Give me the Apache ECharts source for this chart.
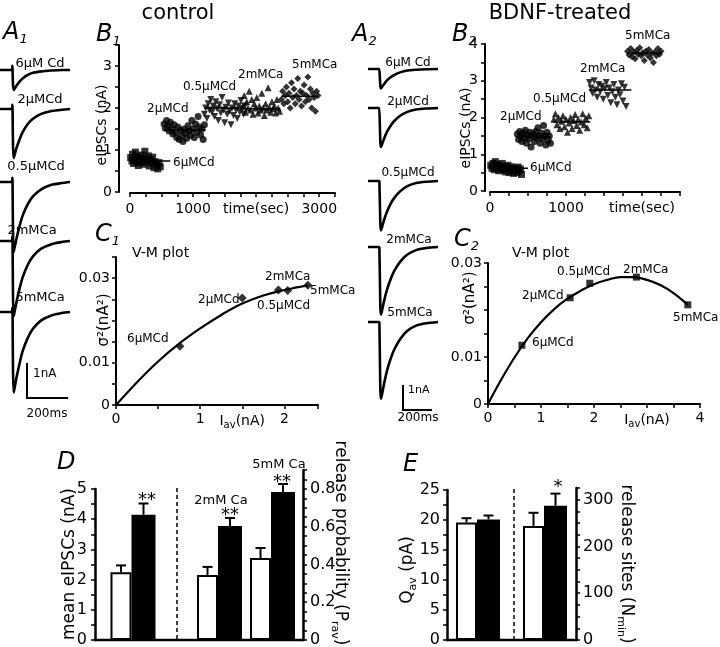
<!DOCTYPE html>
<html>
<head>
<meta charset="utf-8">
<script src="https://cdn.jsdelivr.net/npm/echarts@6/dist/echarts.min.js"></script>
<style>
  html, body { margin: 0; padding: 0; background: #fff; }
  #chart { width: 720px; height: 647px; }
</style>
</head>
<body>
<div id="chart"></div>
<script>
const FONT = 'DejaVu Sans';

// ---- condition names ----
const condLabels = ['6µMCd', '2µMCd', '0.5µMCd', '2mMCa', '5mMCa'];
const traceLabels = ['6µM Cd', '2µMCd', '0.5µMCd', '2mMCa', '5mMCa'];

// ---- A1: example eIPSC traces, control (ms, nA) ----
const a1Time = [-60, -2, 0, 1, 3, 6, 10, 20, 35, 50, 75, 100, 140, 190, 240, 280];
const a1Cd6  = [0, 0, 0.12, 0, -0.4, -0.57, -0.54, -0.45, -0.33, -0.24, -0.14, -0.08, -0.04, -0.015, 0, 0];
const a1Cd2  = [0, 0, 0.12, 0, -1.0, -1.4, -1.33, -1.12, -0.87, -0.66, -0.43, -0.28, -0.14, -0.06, -0.02, 0];
const a1Cd05 = [0, 0, 0.12, 0, -1.4, -2.0, -1.9, -1.62, -1.26, -0.96, -0.63, -0.41, -0.21, -0.08, -0.03, 0];
const a1Ca2  = [0, 0, 0.12, 0, -1.5, -2.15, -2.05, -1.75, -1.36, -1.04, -0.68, -0.44, -0.22, -0.09, -0.03, 0];
const a1Ca5  = [0, 0, 0.12, 0, -1.6, -2.3, -2.2, -1.88, -1.47, -1.12, -0.74, -0.48, -0.24, -0.1, -0.03, 0];

// ---- A2: example eIPSC traces, BDNF-treated (ms, nA) ----
const a2Time = [-80, -2, 0, 2, 5, 9, 15, 30, 50, 75, 100, 140, 190, 250, 320, 400];
const a2Cd6  = [0, 0, 0, -0.4, -0.68, -0.75, -0.7, -0.58, -0.44, -0.32, -0.23, -0.13, -0.06, -0.03, -0.01, 0];
const a2Cd2  = [0, 0, 0, -0.8, -1.35, -1.5, -1.42, -1.18, -0.92, -0.68, -0.5, -0.3, -0.15, -0.06, -0.02, 0];
const a2Cd05 = [0, 0, 0, -1.0, -1.7, -1.9, -1.8, -1.5, -1.18, -0.88, -0.65, -0.4, -0.2, -0.08, -0.03, 0];
const a2Ca2  = [0, 0, 0, -1.4, -2.35, -2.6, -2.48, -2.08, -1.65, -1.24, -0.92, -0.57, -0.29, -0.12, -0.04, 0];
const a2Ca5  = [0, 0, 0, -1.6, -2.65, -2.95, -2.82, -2.38, -1.88, -1.42, -1.06, -0.66, -0.34, -0.14, -0.05, 0];

// ---- B1: eIPSC amplitude vs time, control [sec, nA] ----
const b1Cd6 = [[10,0.82],[30,0.74],[40,0.9],[55,0.68],[70,0.78],[85,0.95],[100,0.72],[115,0.85],[130,0.63],[150,0.8],[165,0.7],[180,0.88],[200,0.76],[215,0.66],[235,0.97],[250,0.8],[270,0.71],[290,0.86],[305,0.62],[325,0.77],[345,0.69],[360,0.83],[380,0.58],[400,0.72],[420,0.65],[440,0.55],[460,0.7],[480,0.6]];
const b1Cd2 = [[540,1.62],[560,1.52],[580,1.7],[600,1.58],[620,1.45],[640,1.66],[660,1.5],[680,1.38],[700,1.6],[720,1.42],[740,1.3],[760,1.55],[780,1.25],[800,1.47],[820,1.35],[840,1.2],[860,1.5],[880,1.4],[900,1.28],[920,1.58],[940,1.45],[960,1.35],[980,1.7],[1000,1.5],[1020,1.3],[1040,1.62],[1060,1.42],[1080,1.8],[1100,1.55],[1120,1.36],[1140,1.5],[1160,1.25],[1180,1.6]];
const b1Cd05 = [[1180,1.85],[1200,2.0],[1220,1.75],[1240,2.1],[1260,1.95],[1280,2.2],[1300,1.9],[1320,2.05],[1340,1.8],[1360,2.15],[1380,1.98],[1400,1.7],[1420,2.08],[1440,1.88],[1460,2.25],[1480,1.95],[1500,1.65],[1520,2.02],[1540,1.85],[1560,2.12],[1580,1.92],[1600,1.6],[1620,2.0],[1640,1.82],[1660,2.1],[1680,1.95],[1700,1.75],[1720,2.05],[1740,1.9],[1760,2.18],[1780,1.98],[1800,1.85],[1820,2.05]];
const b1Ca2 = [[1790,2.05],[1810,2.3],[1830,1.9],[1850,2.15],[1870,2.0],[1890,2.4],[1910,1.95],[1930,2.2],[1950,1.85],[1970,2.1],[1990,2.0],[2010,2.25],[2030,1.88],[2050,2.05],[2070,1.95],[2090,2.35],[2110,2.0],[2130,1.82],[2150,2.1],[2170,1.95],[2190,2.48],[2210,2.02],[2230,1.9],[2250,2.15],[2270,1.98],[2290,2.05],[2310,1.88],[2330,2.2],[2350,2.0],[2370,1.92]];
const b1Ca5 = [[2400,2.2],[2420,2.4],[2440,2.1],[2460,2.3],[2480,2.5],[2500,2.15],[2520,2.35],[2540,2.0],[2560,2.6],[2580,2.25],[2600,2.45],[2620,2.1],[2640,2.3],[2660,2.7],[2680,2.2],[2700,2.4],[2720,2.05],[2740,2.35],[2760,2.55],[2780,2.15],[2800,2.3],[2820,2.74],[2840,2.2],[2860,2.45],[2880,2.0],[2900,2.35],[2920,2.25],[2940,1.92],[2960,2.4],[2980,2.3]];
const b1Mean = [0.74, 1.48, 2.0, 1.98, 2.28];
const b1Span = [[0, 640], [540, 1200], [1180, 1820], [1790, 2380], [2400, 2980]];

// ---- B2: eIPSC amplitude vs time, BDNF-treated [sec, nA] ----
const b2Cd6 = [[10,0.7],[25,0.62],[40,0.75],[55,0.58],[70,0.8],[85,0.65],[100,0.72],[115,0.55],[130,0.68],[145,0.6],[160,0.75],[175,0.57],[190,0.66],[205,0.52],[220,0.62],[235,0.7],[250,0.5],[265,0.6],[280,0.66],[295,0.55],[310,0.48],[325,0.62],[340,0.58],[355,0.5],[370,0.65],[385,0.55],[400,0.6],[415,0.45]];
const b2Cd2 = [[360,1.55],[375,1.4],[390,1.62],[405,1.5],[420,1.35],[435,1.58],[450,1.45],[465,1.65],[480,1.3],[495,1.52],[510,1.42],[525,1.6],[540,1.2],[555,1.48],[570,1.55],[585,1.35],[600,1.62],[615,1.45],[630,1.72],[645,1.5],[660,1.3],[675,1.58],[690,1.42],[705,1.78],[720,1.5],[735,1.25],[750,1.6],[765,1.38],[780,1.5],[795,1.3]];
const b2Cd05 = [[840,1.95],[860,2.1],[880,1.8],[900,2.0],[920,1.7],[940,1.9],[960,2.05],[980,1.75],[1000,1.95],[1020,1.6],[1040,1.85],[1060,2.0],[1080,1.7],[1100,1.92],[1120,2.08],[1140,1.78],[1160,1.95],[1180,1.65],[1200,1.88],[1220,2.1],[1240,1.8],[1260,1.98],[1280,1.72],[1300,2.05]];
const b2Ca2 = [[1310,2.95],[1330,2.8],[1350,2.65],[1370,3.0],[1390,2.75],[1410,2.55],[1430,2.9],[1450,2.7],[1470,2.85],[1490,2.5],[1510,2.78],[1530,2.95],[1550,2.6],[1570,2.8],[1590,2.4],[1610,2.7],[1630,2.9],[1650,2.55],[1670,2.35],[1690,2.75],[1710,2.62],[1730,2.92],[1750,2.45],[1770,2.82],[1790,2.3]];
const b2Ca5 = [[1810,3.8],[1830,3.7],[1850,3.88],[1870,3.65],[1890,3.78],[1910,3.6],[1930,3.82],[1950,3.72],[1970,3.9],[1990,3.68],[2010,3.76],[2030,3.55],[2050,3.8],[2070,3.7],[2090,3.85],[2110,3.62],[2130,3.75],[2150,3.5],[2170,3.78],[2190,3.68],[2210,3.88],[2230,3.72],[2250,3.8]];
const b2Mean = [0.62, 1.48, 1.88, 2.75, 3.75];
const b2Span = [[0, 500], [340, 800], [830, 1320], [1300, 1860], [1800, 2260]];

// ---- C: variance-mean plots [Iav nA, variance nA^2] ----
const c1Curve = [[0,0],[0.25,0.0054],[0.5,0.0103],[0.75,0.0145],[1.0,0.0181],[1.25,0.0213],[1.5,0.024],[1.75,0.0259],[2.0,0.0272],[2.15,0.0278],[2.28,0.0283]];
const c1Points = [[0.76,0.0139],[1.5,0.0253],[2.04,0.0271],[1.93,0.0272],[2.28,0.0283]];
const c2Curve = [[0,0],[0.25,0.0052],[0.5,0.0099],[0.75,0.014],[1,0.0174],[1.25,0.0202],[1.5,0.0224],[1.75,0.0241],[2,0.0255],[2.25,0.0264],[2.5,0.027],[2.75,0.027],[3,0.0264],[3.25,0.0253],[3.5,0.0236],[3.77,0.0211]];
const c2Points = [[0.64,0.0125],[1.55,0.0226],[1.92,0.0257],[2.8,0.027],[3.77,0.0211]];

// ---- D: mean eIPSCs and release probability (control / BDNF) ----
const dMeanCat = ['0.5µM Cd'];
const dMeanCtl = [2.24], dMeanCtlErr = [0.23];
const dMeanBdnf = [4.15], dMeanBdnfErr = [0.37];
const dProbCat = ['2mM Ca', '5mM Ca'];
const dProbCtl = [0.344, 0.434], dProbCtlErr = [0.043, 0.053];
const dProbBdnf = [0.604, 0.784], dProbBdnfErr = [0.042, 0.042];

// ---- E: quantal size and release sites ----
const eQCtl = [19.6], eQCtlErr = [0.7];
const eQBdnf = [20.1], eQBdnfErr = [0.65];
const eNCtl = [244], eNCtlErr = [28];
const eNBdnf = [287], eNBdnfErr = [26];

const grids = [], xAxes = [], yAxes = [], series = [], graphics = [];

function near(v, t) { return Math.abs(v - t) < 1e-9; }
function pick(pairs) {
  return function (v) {
    for (let i = 0; i < pairs.length; i++) if (near(v, pairs[i][0])) return pairs[i][1];
    return '';
  };
}
const subRich = {
  i: { fontSize: 14, fontFamily: FONT, color: '#000', lineHeight: 18 },
  s: { fontSize: 10, fontFamily: FONT, color: '#000', lineHeight: 10, verticalAlign: 'bottom' }
};
const IAV = '{i|I}{s|av}{i|(nA)}';

function valAxis(o) {
  return {
    type: 'value', min: o.min, max: o.max, interval: o.interval,
    position: o.position, offset: o.offset || 0, show: o.show !== false,
    axisLine: { show: true, onZero: false, lineStyle: { color: '#000', width: o.lw || 2 } },
    axisTick: { show: true, length: 4, lineStyle: { color: '#000', width: 1.5 } },
    axisLabel: { show: !!o.label, formatter: o.label, margin: o.margin || 7, color: '#000',
      fontFamily: FONT, fontSize: o.fs || 14, rich: subRich, hideOverlap: false },
    splitLine: { show: false }
  };
}
function catAxis(data) {
  return { type: 'category', data: data, axisLine: { show: false }, axisTick: { show: false },
    axisLabel: { show: false }, splitLine: { show: false } };
}
function addGrid(g, xa, ya) {
  const i = grids.length;
  grids.push(Object.assign({ containLabel: false, outerBoundsMode: 'none' }, g));
  xa.gridIndex = i; ya.gridIndex = i;
  xAxes.push(xa); yAxes.push(ya);
  return i;
}
function txt(x, y, s, o) {
  o = o || {};
  graphics.push({
    type: 'text', x: x, y: y, rotation: o.rot || 0, z: 100,
    style: {
      text: s, fill: '#000', fontFamily: FONT, fontSize: o.size || 12,
      fontStyle: o.italic ? 'italic' : 'normal', align: o.align || 'left',
      verticalAlign: 'middle', rich: o.rich
    }
  });
}
function seg(x1, y1, x2, y2, w, dash) {
  graphics.push({ type: 'line', z: 100, shape: { x1: x1, y1: y1, x2: x2, y2: y2 },
    style: { stroke: '#000', lineWidth: w || 2, lineDash: dash || null } });
}
function letter(x, y, a, n) {
  txt(x, y, '{a|' + a + '}' + (n ? '{n|' + n + '}' : ''), {
    rich: {
      a: { fontSize: 24, fontStyle: 'italic', fontFamily: FONT, fill: '#000', color: '#000', lineHeight: 26 },
      n: { fontSize: 13, fontStyle: 'italic', fontFamily: FONT, fill: '#000', color: '#000', lineHeight: 12, verticalAlign: 'bottom' }
    }
  });
}

// ---- A traces ----
function addTraces(times, sets, left, width, xr, yr, pxPerNA, baselines) {
  sets.forEach(function (vals, k) {
    const top = baselines[k] - yr[1] * pxPerNA;
    const g = addGrid({ left: left, top: top, width: width, height: (yr[1] - yr[0]) * pxPerNA },
      { type: 'value', min: xr[0], max: xr[1], show: false },
      { type: 'value', min: yr[0], max: yr[1], show: false });
    series.push({ type: 'line', xAxisIndex: g, yAxisIndex: g, showSymbol: false, smooth: 0.25,
      data: times.map(function (t, i) { return [t, vals[i]]; }),
      lineStyle: { color: '#000', width: 2.6 } });
  });
}
addTraces(a1Time, [a1Cd6, a1Cd2, a1Cd05, a1Ca2, a1Ca5], 0, 70, [-60, 280], [-2.5, 0.5], 35, [70, 109, 182, 241, 312]);
addTraces(a2Time, [a2Cd6, a2Cd2, a2Cd05, a2Ca2, a2Ca5], 368, 70, [-80, 400], [-3.5, 0.5], 26, [69, 108, 181, 247, 322]);

[[40, 64], [40, 100], [36, 167], [32, 231], [40, 298]].forEach(function (p, k) { txt(p[0], p[1], traceLabels[k], { size: 13, align: 'center' }); });
[[408, 63], [408, 102], [408, 173], [409, 240], [410, 313]].forEach(function (p, k) { txt(p[0], p[1], traceLabels[k], { size: 12, align: 'center' }); });

// scale bars
seg(27, 363, 27, 399, 2); seg(26, 398, 68, 398, 2);
txt(33, 374, '1nA', { size: 12 }); txt(47, 414, '200ms', { size: 12, align: 'center' });
seg(403, 385, 403, 411, 2); seg(402, 410, 432, 410, 2);
txt(408, 390, '1nA', { size: 11 }); txt(418, 418, '200ms', { size: 12, align: 'center' });

// ---- B scatter plots ----
function addTimePlot(g, sets, symbols, rotates, size, means, spans) {
  sets.forEach(function (d, k) {
    series.push({ type: 'scatter', xAxisIndex: g, yAxisIndex: g, data: d, symbol: symbols[k],
      symbolRotate: rotates[k], symbolSize: size, itemStyle: { color: '#000' } });
    series.push({ type: 'line', xAxisIndex: g, yAxisIndex: g, showSymbol: false, z: 3,
      data: [[spans[k][0], means[k]], [spans[k][1], means[k]]],
      lineStyle: { color: '#000', width: 1.5 } });
  });
}
const intLabel = function (v) { return near(v, Math.round(v)) ? String(Math.round(v)) : ''; };
const gB1 = addGrid({ left: 130, top: 45, width: 205, height: 147 },
  valAxis({ min: 0, max: 3250, interval: 250, offset: 1, margin: 9,
    label: pick([[0, '0'], [1000, '1000'], [2000, 'time(sec)'], [3000, '3000']]) }),
  valAxis({ min: 0, max: 3.5, interval: 0.5, offset: 11, label: intLabel }));
addTimePlot(gB1, [b1Cd6, b1Cd2, b1Cd05, b1Ca2, b1Ca5], ['rect', 'circle', 'triangle', 'triangle', 'diamond'],
  [0, 0, 180, 0, 0], 7, b1Mean, b1Span);

const gB2 = addGrid({ left: 490, top: 44, width: 190, height: 147 },
  valAxis({ min: 0, max: 2500, interval: 250, offset: 1, margin: 9,
    label: pick([[0, '0'], [1000, '1000'], [2000, 'time(sec)']]) }),
  valAxis({ min: 0, max: 4, interval: 0.5, offset: 5, label: intLabel }));
addTimePlot(gB2, [b2Cd6, b2Cd2, b2Cd05, b2Ca2, b2Ca5], ['rect', 'circle', 'triangle', 'triangle', 'diamond'],
  [0, 0, 0, 180, 0], 7, b2Mean, b2Span);

[[147, 109], [183, 87], [238, 75], [292, 65], [173, 163]].forEach(function (p, k) {
  txt(p[0], p[1], condLabels[[1, 2, 3, 4, 0][k]], { size: 12 });
});
[[500, 117], [533, 99], [580, 69], [625, 36], [530, 168]].forEach(function (p, k) {
  txt(p[0], p[1], condLabels[[1, 2, 3, 4, 0][k]], { size: 12 });
});

// ---- C variance-mean plots ----
const varLabel = pick([[0, '0'], [0.01, '0.01'], [0.03, '0.03']]);
const gC1 = addGrid({ left: 116, top: 257, width: 202, height: 148 },
  valAxis({ min: 0, max: 2.4, interval: 0.5, label: pick([[0, '0'], [1, '1'], [1.5, IAV], [2, '2']]) }),
  valAxis({ min: 0, max: 0.035, interval: 0.005, label: varLabel, margin: 6 }));
series.push({ type: 'line', xAxisIndex: gC1, yAxisIndex: gC1, data: c1Curve, smooth: 0.4, showSymbol: false,
  lineStyle: { color: '#000', width: 2.2 } });
series.push({ type: 'scatter', xAxisIndex: gC1, yAxisIndex: gC1, data: c1Points, symbol: 'diamond', symbolSize: 9,
  itemStyle: { color: '#000' } });

const gC2 = addGrid({ left: 488, top: 263, width: 212, height: 141 },
  valAxis({ min: 0, max: 4, interval: 0.5, label: pick([[0, '0'], [1, '1'], [2, '2'], [3, IAV], [4, '4']]) }),
  valAxis({ min: 0, max: 0.03, interval: 0.005, label: varLabel, margin: 6 }));
series.push({ type: 'line', xAxisIndex: gC2, yAxisIndex: gC2, data: c2Curve, smooth: 0.4, showSymbol: false,
  lineStyle: { color: '#000', width: 2.2 } });
series.push({ type: 'scatter', xAxisIndex: gC2, yAxisIndex: gC2, data: c2Points, symbol: 'rect', symbolSize: 7,
  itemStyle: { color: '#000' } });

[[127, 339, 0], [198, 300, 1], [257, 306, 2], [265, 277, 3], [310, 291, 4]].forEach(function (p) {
  txt(p[0], p[1], condLabels[p[2]], { size: 12 });
});
[[532, 343, 0], [522, 296, 1], [557, 272, 2], [623, 270, 3], [673, 318, 4]].forEach(function (p) {
  txt(p[0], p[1], condLabels[p[2]], { size: 12 });
});
txt(132, 253, 'V-M plot', { size: 14 });
txt(512, 253, 'V-M plot', { size: 14 });

// ---- D / E bar charts ----
const whiteBar = { color: '#fff', borderColor: '#000', borderWidth: 2 };
const blackBar = { color: '#000' };
function errSeries(g, vals, errs, shift) {
  return {
    type: 'custom', xAxisIndex: g, yAxisIndex: g, z: 1,
    data: vals.map(function (v, i) { return [i, v, v + errs[i]]; }),
    renderItem: function (params, api) {
      const base = api.coord([api.value(0), api.value(1)]);
      const top = api.coord([api.value(0), api.value(2)]);
      const x = base[0] + shift;
      return { type: 'group', children: [
        { type: 'line', shape: { x1: x, y1: base[1], x2: x, y2: top[1] }, style: { stroke: '#000', lineWidth: 2 } },
        { type: 'line', shape: { x1: x - 5, y1: top[1], x2: x + 5, y2: top[1] }, style: { stroke: '#000', lineWidth: 2 } }
      ] };
    }
  };
}
function addBarPair(g, ctl, ctlErr, bdnf, bdnfErr, wW, wB) {
  series.push({ type: 'bar', xAxisIndex: g, yAxisIndex: g, data: ctl, barWidth: wW, barGap: '0%', itemStyle: whiteBar });
  series.push({ type: 'bar', xAxisIndex: g, yAxisIndex: g, data: bdnf, barWidth: wB, barGap: '0%', itemStyle: blackBar });
  const total = wW + wB;
  series.push(errSeries(g, ctl, ctlErr, -total / 2 + wW / 2));
  series.push(errSeries(g, bdnf, bdnfErr, -total / 2 + wW + wB / 2));
}
const fifthLabel = function (v) { return near(v * 5, Math.round(v * 5)) ? (near(v, 0) ? '0' : v.toFixed(1)) : ''; };
const gD1 = addGrid({ left: 95, top: 489, width: 76, height: 151 }, catAxis(dMeanCat),
  valAxis({ min: 0, max: 5, interval: 0.5, label: intLabel, fs: 16, lw: 2.5, margin: 8 }));
addBarPair(gD1, dMeanCtl, dMeanCtlErr, dMeanBdnf, dMeanBdnfErr, 21, 24);
const gD2 = addGrid({ left: 193, top: 470, width: 106, height: 170 }, catAxis(dProbCat),
  valAxis({ min: 0, max: 0.9, interval: 0.05, position: 'right', offset: 4, label: fifthLabel, fs: 16, lw: 2.5, margin: 7 }));
addBarPair(gD2, dProbCtl, dProbCtlErr, dProbBdnf, dProbBdnfErr, 21, 24);

const gE1 = addGrid({ left: 447, top: 490, width: 62, height: 150 }, catAxis(['Qav']),
  valAxis({ min: 0, max: 25, interval: 2.5, label: function (v) { return near(v % 5, 0) ? String(v) : ''; }, fs: 16, lw: 2.5, margin: 7 }));
addBarPair(gE1, eQCtl, eQCtlErr, eQBdnf, eQBdnfErr, 21, 23);
const gE2 = addGrid({ left: 514, top: 488, width: 62, height: 152 }, catAxis(['Nmin']),
  valAxis({ min: 0, max: 325, interval: 25, position: 'right', label: function (v) { return near(v % 100, 0) ? String(v) : ''; }, fs: 16, lw: 2.5, margin: 7 }));
addBarPair(gE2, eNCtl, eNCtlErr, eNBdnf, eNBdnfErr, 21, 23);

seg(94, 640, 304, 640, 2.5);
seg(177, 488, 177, 640, 1.5, [4, 3]);
seg(446, 640, 577, 640, 2.5);
seg(514, 489, 514, 640, 1.5, [4, 3]);
txt(147, 500, '**', { size: 18, align: 'center' });
txt(230, 515, '**', { size: 18, align: 'center' });
txt(282, 482, '**', { size: 18, align: 'center' });
txt(221, 501, '2mM Ca', { size: 13, align: 'center' });
txt(279, 465, '5mM Ca', { size: 13, align: 'center' });
txt(558, 487, '*', { size: 18, align: 'center' });

// ---- axis titles (rotated) ----
const nameRich = function (size) {
  return {
    a: { fontSize: size, fontFamily: FONT, fill: '#000', color: '#000', lineHeight: size + 4 },
    s: { fontSize: Math.round(size * 0.65), fontFamily: FONT, fill: '#000', color: '#000', lineHeight: 10, verticalAlign: 'bottom' }
  };
};
txt(102, 125, '{a|eIPSCs (nA)}', { rot: Math.PI / 2, align: 'center', rich: nameRich(14) });
txt(466, 128, '{a|eIPSCs (nA)}', { rot: Math.PI / 2, align: 'center', rich: nameRich(14) });
txt(104, 320, '{a|σ²(nA²)}', { rot: Math.PI / 2, align: 'center', rich: nameRich(15) });
txt(470, 298, '{a|σ²(nA²)}', { rot: Math.PI / 2, align: 'center', rich: nameRich(15) });
txt(70, 564, '{a|mean eIPSCs (nA)}', { rot: Math.PI / 2, align: 'center', rich: nameRich(17) });
txt(340, 543, '{a|release probability (P}{s|rav}{a|)}', { rot: -Math.PI / 2, align: 'center', rich: nameRich(17) });
txt(408, 570, '{a|Q}{s|av}{a| (pA)}', { rot: Math.PI / 2, align: 'center', rich: nameRich(17) });
txt(626, 564, '{a|release sites (N}{s|min}{a|)}', { rot: -Math.PI / 2, align: 'center', rich: nameRich(17) });

// ---- titles and panel letters ----
txt(178, 14, 'control', { size: 21, align: 'center' });
txt(560, 14, 'BDNF-treated', { size: 21, align: 'center' });
letter(3, 33, 'A', '1');
letter(96, 35, 'B', '1');
letter(352, 35, 'A', '2');
letter(452, 35, 'B', '2');
letter(95, 235, 'C', '1');
letter(454, 240, 'C', '2');
letter(57, 463, 'D');
letter(403, 465, 'E');

const chart = echarts.init(document.getElementById('chart'));
chart.setOption({
  animation: false,
  backgroundColor: '#fff',
  grid: grids,
  xAxis: xAxes,
  yAxis: yAxes,
  series: series,
  graphic: graphics
});
</script>
</body>
</html>
